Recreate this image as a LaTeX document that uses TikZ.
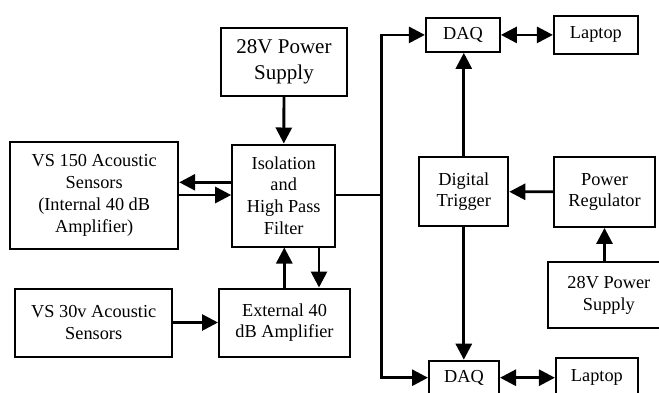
\documentclass[tikz,border=0pt]{standalone}
\usepackage{fontspec}
\setmainfont{Liberation Serif}
\usetikzlibrary{arrows.meta, positioning, calc}
\tikzset{
  every picture/.style={line width=2pt},
  box/.style={draw=black, rectangle, align=center, inner sep=2pt,
              font=\fontsize{18.3}{21.8}\selectfont},
  arrow/.style={-{Triangle[length=16pt, width=16pt]}, line width=2.8pt},
  twoway/.style={{Triangle[length=16pt, width=16pt]}-{Triangle[length=16pt, width=16pt]}, line width=2.8pt},
}

\begin{document}
\begin{tikzpicture}[x=1pt, y=-1pt]
  \useasboundingbox (0,0) rectangle (659,392);
  % name, centre, width, height, text
  \foreach \name/\x/\y/\w/\h/\txt in {
      vsonefifty/94.2/195.2/168/107/{VS 150 Acoustic\\Sensors\\(Internal 40 dB\\Amplifier)},
      iso/283.7/195.5/103/102/{Isolation\\and\\High Pass\\Filter},
      vsthirty/93.7/322.5/157/68/{VS 30v Acoustic\\Sensors},
      extamp/284.5/322.5/131/68/{External 40\\dB Amplifier},
      daqtop/462.9/34.9/74/34/{DAQ},
      laptop/595.9/34.9/84/38/{Laptop},
      trig/463.8/191.7/89/69/{Digital\\Trigger},
      reg/604.5/191.9/101/70/{Power\\Regulator},
      supplyright/608.9/295/122/66/{28V Power\\Supply},
      daqbot/464/377.7/70/34/{DAQ},
      lapbot/596.9/377.2/82/38/{Laptop}} {
    \node[box, minimum width=\w pt, minimum height=\h pt] (\name) at (\x,\y) {\txt};
  }
  \node[box, minimum width=126pt, minimum height=68pt,
        font=\fontsize{21}{26.5}\selectfont] (supplytop) at (284,62) {28V Power\\Supply};

  % left half
  \draw[arrow] (supplytop) -- (iso);
  \draw[arrow] (iso.west |- 0,182.3) -- (vsonefifty.east |- 0,182.3);
  \draw[arrow] (vsonefifty.east |- 0,195) -- (iso.west |- 0,195);
  \draw[arrow] (extamp.north -| 284.3,0) -- (iso.south -| 284.3,0);
  \draw[arrow] (iso.south -| 319,0) -- (extamp.north -| 319,0);
  \draw[arrow] (vsthirty) -- (extamp);

  % bus to both DAQs
  \coordinate (bus) at (381.5,195);
  \draw[line width=2.8pt] (iso.east |- bus) -- (bus);
  \draw[arrow] (bus) |- (daqtop.west);
  \draw[arrow] (bus) |- (daqbot.west);

  % right half
  \draw[twoway] (daqtop) -- (laptop);
  \draw[twoway] (daqbot) -- (lapbot.west |- daqbot);
  \draw[arrow] (trig) -- (trig |- daqtop.south);
  \draw[arrow] (trig) -- (trig |- daqbot.north);
  \draw[arrow] (reg) -- (trig);
  \draw[arrow] (supplyright.north -| reg) -- (reg.south);
\end{tikzpicture}
\end{document}
